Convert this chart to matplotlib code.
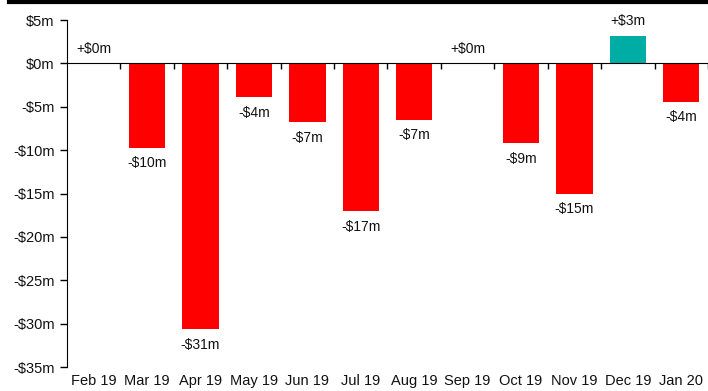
import matplotlib
matplotlib.use('Agg')
import matplotlib.pyplot as plt
import matplotlib.transforms as mtransforms
from matplotlib.lines import Line2D
import numpy as np

plt.rcParams['font.family'] = ['Liberation Sans', 'DejaVu Sans']

months = ['Feb 19', 'Mar 19', 'Apr 19', 'May 19', 'Jun 19', 'Jul 19',
          'Aug 19', 'Sep 19', 'Oct 19', 'Nov 19', 'Dec 19', 'Jan 20']
values = [0.0, -9.7, -30.6, -3.9, -6.8, -17.0, -6.5, 0.0, -9.2, -15.0, 3.2, -4.4]
labels = ['+$0m', '-$10m', '-$31m', '-$4m', '-$7m', '-$17m',
          '-$7m', '+$0m', '-$9m', '-$15m', '+$3m', '-$4m']
yticks = [5, 0, -5, -10, -15, -20, -25, -30, -35]

fig = plt.figure(figsize=(7.08, 3.91), dpi=100)
ax = fig.add_axes([67 / 708, 1 - 367 / 391, 1 - 67 / 708, (367 - 20) / 391])

x = np.arange(len(months))
colors = ['#00ADA5' if v > 0 else '#FF0000' for v in values]
ax.bar(x, values, width=0.68, color=colors, zorder=2)

ax.set_xlim(-0.5, len(months) - 0.5)
ax.set_ylim(-35, 5)
ax.set_yticks(yticks)
ax.set_yticklabels([('$%dm' % v) if v >= 0 else ('-$%dm' % -v) for v in yticks],
                   fontsize=10.5, color='#111111')
ax.tick_params(axis='y', length=5, width=1, pad=4)

for s in ['top', 'right']:
    ax.spines[s].set_visible(False)
ax.spines['bottom'].set_position(('data', 0))
ax.spines['bottom'].set_zorder(3)
ax.set_xticks(x[:-1] + 0.5)
ax.set_xticks([len(months) - 0.5], minor=True)
ax.set_xticklabels([])
ax.tick_params(axis='x', which='both', length=4, width=1, direction='out')

trans = mtransforms.blended_transform_factory(ax.transData, ax.transAxes)
for i, m in enumerate(months):
    ax.text(i, -0.02, m, transform=trans, ha='center', va='top', fontsize=10.5, color='#111111')

for i, (v, lab) in enumerate(zip(values, labels)):
    if v >= 0:
        ax.text(i, v + 0.9, lab, ha='center', va='bottom', fontsize=10, color='#111111')
    else:
        ax.text(i, v - 1.0, lab, ha='center', va='top', fontsize=10, color='#111111')

fig.add_artist(Line2D([9 / 708, 1.0], [1 - 1.5 / 391, 1 - 1.5 / 391],
                      transform=fig.transFigure, color='black', linewidth=3))

fig.savefig('out.png', dpi=100)
